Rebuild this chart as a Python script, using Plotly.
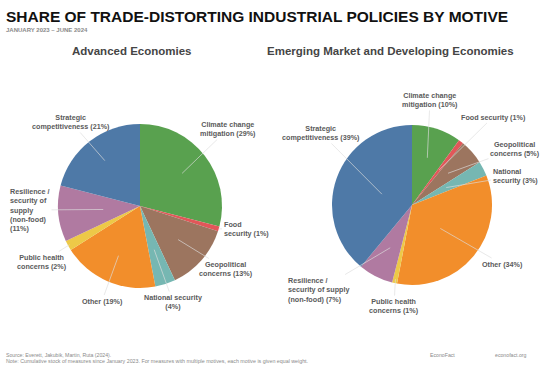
import math
import plotly.graph_objects as go

W, H = 554, 372

motives = ["Climate change mitigation", "Food security", "Geopolitical concerns",
           "National security", "Other", "Public health concerns",
           "Resilience / security of supply (non-food)", "Strategic competitiveness"]
colors = ["#59A14F", "#E15759", "#9C755F", "#76B7B2", "#F28E2B", "#EDC948", "#B07AA1", "#4E79A7"]

adv_values = [29, 1, 13, 4, 19, 2, 11, 21]
emde_values = [10, 1, 5, 3, 34, 1, 7, 39]

adv_labels = ["Climate change<br>mitigation (29%)", "Food<br>security (1%)",
              "Geopolitical<br>concerns (13%)", "National security<br>(4%)", "Other (19%)",
              "Public health<br>concerns (2%)",
              "Resilience /<br>security of<br>supply<br>(non-food)<br>(11%)",
              "Strategic<br>competitiveness (21%)"]
emde_labels = ["Climate change<br>mitigation (10%)", "Food security (1%)",
               "Geopolitical<br>concerns (5%)", "National<br>security (3%)", "Other (34%)",
               "Public health<br>concerns (1%)",
               "Resilience /<br>security of supply<br>(non-food) (7%)",
               "Strategic<br>competitiveness (39%)"]

# layout: pie centre/radius (px), label positions (px), leader tip radius fraction, alignment
adv_pie = dict(cx=140, cy=206, r=82)
emde_pie = dict(cx=412, cy=205, r=80)
adv_lab_pos = [(228, 129), (246, 229), (226, 269), (173, 302), (102, 301), (42, 262), (30, 210), (71, 122)]
adv_tip_r = [0.65, 1.0, 0.62, 0.56, 0.66, 0.98, 0.45, 0.7]
adv_align = ["center", "left", "center", "center", "center", "center", "left", "center"]
emde_lab_pos = [(430, 100), (493, 117), (515, 149), (515, 176), (502, 264), (394, 306), (319, 290), (321, 133)]
emde_tip_r = [0.62, 0.55, 0.6, 0.48, 0.46, 0.95, 0.6, 0.4]
emde_align = ["center", "center", "center", "left", "center", "center", "left", "center"]


def px(x):
    return x / W


def py(y):
    return 1 - y / H


def domain(p):
    return dict(x=[px(p["cx"] - p["r"]), px(p["cx"] + p["r"])],
                y=[py(p["cy"] + p["r"]), py(p["cy"] - p["r"])])


fig = go.Figure()
for vals, p in [(adv_values, adv_pie), (emde_values, emde_pie)]:
    fig.add_trace(go.Pie(values=vals, labels=motives, sort=False, direction="clockwise",
                         rotation=0, marker=dict(colors=colors, line=dict(width=0)),
                         textinfo="none", hoverinfo="label+percent", showlegend=False,
                         domain=domain(p)))

annotations = []


def add_labels(vals, labels, p, pos, tip_r, align):
    total = sum(vals)
    cum = 0
    for v, lab, (lx, ly), tr, al in zip(vals, labels, pos, tip_r, align):
        mid = (cum + v / 2) / total * 2 * math.pi
        cum += v
        tx = p["cx"] + tr * p["r"] * math.sin(mid)
        ty = p["cy"] - tr * p["r"] * math.cos(mid)
        annotations.append(dict(
            x=px(tx), y=py(ty), xref="paper", yref="paper",
            ax=lx - tx, ay=ly - ty, axref="pixel", ayref="pixel",
            text="<b>" + lab + "</b>", align=al, showarrow=True, arrowhead=0,
            arrowwidth=0.7, arrowcolor="rgba(222,222,222,0.95)", standoff=0,
            font=dict(family="Liberation Sans, Arial", size=7.2, color="#5a5a5a")))


add_labels(adv_values, adv_labels, adv_pie, adv_lab_pos, adv_tip_r, adv_align)
add_labels(emde_values, emde_labels, emde_pie, emde_lab_pos, emde_tip_r, emde_align)


def text(x, y, t, size, color, xanchor="left", bold=False):
    annotations.append(dict(x=px(x), y=py(y), xref="paper", yref="paper",
                            text=("<b>" + t + "</b>") if bold else t, showarrow=False,
                            xanchor=xanchor, yanchor="middle", align=xanchor if xanchor != "center" else "center",
                            font=dict(family="Liberation Sans, Arial", size=size, color=color)))


text(4, 16.5, "SHARE OF TRADE-DISTORTING INDUSTRIAL POLICIES BY MOTIVE", 15.5, "#111111", bold=True)
text(4, 29.5, "JANUARY 2023 – JUNE 2024", 6, "#8a8a8a", bold=True)
text(132, 51, "Advanced Economies", 11.5, "#454545", xanchor="center", bold=True)
text(390, 51, "Emerging Market and Developing Economies", 11.5, "#454545", xanchor="center", bold=True)
text(4, 355, "Source: Everett, Jakubik, Martin, Ruta (2024).", 5.2, "#8a8a8a")
text(4, 361, "Note: Cumulative stock of measures since January 2023. For measures with multiple motives, each motive is given equal weight.", 5.3, "#8a8a8a")
text(428, 355, "EconoFact", 5.2, "#8a8a8a")
text(493, 355, "econofact.org", 5.2, "#8a8a8a")

fig.update_layout(width=W, height=H, margin=dict(l=0, r=0, t=0, b=0),
                  paper_bgcolor="white", plot_bgcolor="white", annotations=annotations)
fig.write_html("out.html", config={"displayModeBar": False},
               post_script="document.body.style.margin='0';")
